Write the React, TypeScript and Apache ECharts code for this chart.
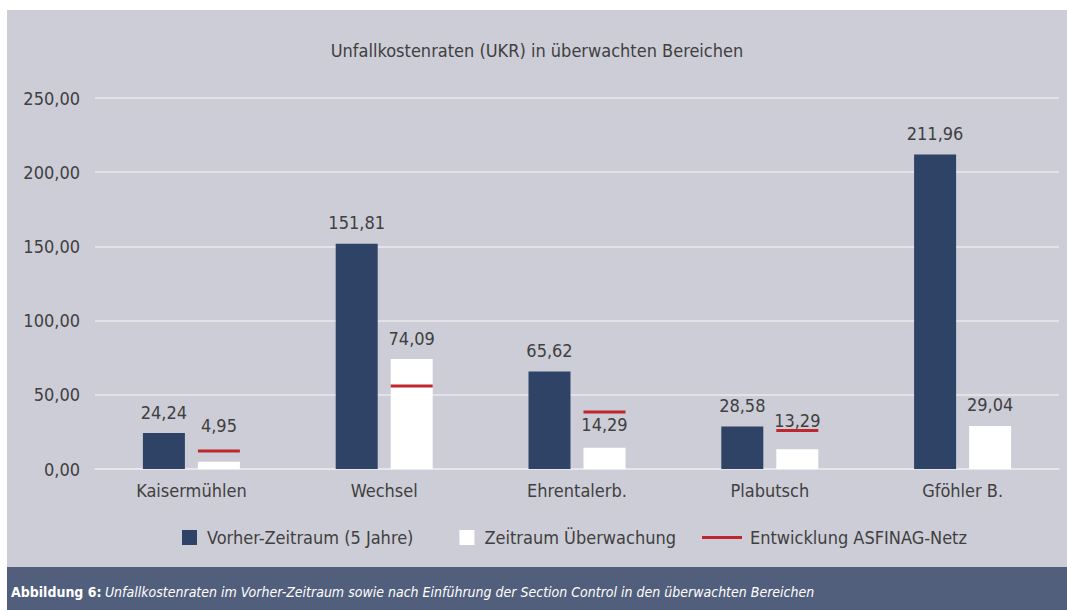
import React, { useEffect, useRef } from "react";
import * as echarts from "echarts";

const categories = ["Kaisermühlen", "Wechsel", "Ehrentalerb.", "Plabutsch", "Gföhler B."];
const vorher = [24.24, 151.81, 65.62, 28.58, 211.96];
const ueberwachung = [4.95, 74.09, 14.29, 13.29, 29.04];
const asfinag: (number | null)[] = [12.1, 55.9, 38.4, 26.0, null];
const ueberwachungLabelLift = [15, 0, 2, 8, 0];
const yTicks = { min: 0, max: 250, interval: 50 };

const seriesNames = ["Vorher-Zeitraum (5 Jahre)", "Zeitraum Überwachung", "Entwicklung ASFINAG-Netz"];
const titleText = "Unfallkostenraten (UKR) in überwachten Bereichen";
const captionBold = "Abbildung 6:";
const captionText = "Unfallkostenraten im Vorher-Zeitraum sowie nach Einführung der Section Control in den überwachten Bereichen";

const FONT = "'Liberation Sans Narrow', 'Arial Narrow', 'DejaVu Sans Condensed', sans-serif";
const FS = 18;
const TEXT = "#404040";
const DARK = "#2f4366";
const RED = "#c0272d";
const BG = "#cdcdd7";
const CAPTION_BG = "#525f7c";
const GRID = "#e8e8ed";

const fmt = (v: number) => v.toFixed(2).replace(".", ",");

export default function App() {
  const ref = useRef<HTMLDivElement>(null);
  useEffect(() => {
    if (!ref.current) return;
    const chart = echarts.init(ref.current, null, { renderer: "svg" });
    const BAR_W = 42;
    const GAP = 13;
    const offset = (BAR_W + GAP) / 2;
    chart.setOption({
      animation: false,
      textStyle: { fontFamily: FONT },
      graphic: [
        { type: "rect", z: -10, silent: true, shape: { x: 7, y: 10, width: 1060, height: 557 }, style: { fill: BG } },
        { type: "rect", z: -10, silent: true, shape: { x: 7, y: 567, width: 1060, height: 43 }, style: { fill: CAPTION_BG } },
        {
          type: "text",
          x: 11,
          y: 592,
          style: {
            text: `{b|${captionBold}} {i|${captionText}}`,
            verticalAlign: "middle",
            fill: "#ffffff",
            rich: {
              b: { fontFamily: FONT, fontSize: 14, fontWeight: "bold", fill: "#ffffff" },
              i: { fontFamily: FONT, fontSize: 14, fontStyle: "italic", fill: "#ffffff" },
            },
          },
        },
      ],
      title: {
        text: titleText,
        left: 537,
        textAlign: "center",
        top: 41,
        padding: 0,
        textStyle: { fontFamily: FONT, fontSize: FS, fontWeight: "normal", color: TEXT },
      },
      legend: [
        {
          data: [
            { name: seriesNames[0], icon: "rect" },
            { name: seriesNames[1], icon: "rect" },
          ],
          left: 182,
          top: 525,
          padding: 0,
          itemWidth: 15,
          itemHeight: 15,
          itemGap: 46,
          textStyle: { fontFamily: FONT, fontSize: FS, color: TEXT, lineHeight: 25, padding: [0, 0, 0, 5] },
        },
        {
          data: [{ name: seriesNames[2], icon: "rect" }],
          left: 702,
          top: 525,
          padding: 0,
          itemWidth: 40,
          itemHeight: 3,
          textStyle: { fontFamily: FONT, fontSize: FS, color: TEXT, lineHeight: 25, padding: [0, 0, 0, 3] },
        },
      ],
      grid: { left: 95, right: 8, top: 98, bottom: 141 },
      xAxis: {
        type: "category",
        data: categories,
        axisLine: { lineStyle: { color: GRID, width: 1.5 } },
        axisTick: { show: false },
        axisLabel: { fontFamily: FONT, fontSize: FS, color: TEXT, margin: 12 },
      },
      yAxis: {
        type: "value",
        min: yTicks.min,
        max: yTicks.max,
        interval: yTicks.interval,
        axisLine: { show: false },
        axisTick: { show: false },
        splitLine: { lineStyle: { color: GRID, width: 1.5 } },
        axisLabel: { fontFamily: FONT, fontSize: FS, color: TEXT, margin: 15, formatter: (v: number) => fmt(v) },
      },
      series: [
        {
          name: seriesNames[0],
          type: "bar",
          data: vorher,
          barWidth: BAR_W,
          barGap: `${(GAP / BAR_W) * 100}%`,
          itemStyle: { color: DARK },
          label: {
            show: true,
            position: "top",
            distance: 12,
            fontFamily: FONT,
            fontSize: FS,
            color: TEXT,
            formatter: (p: any) => fmt(p.value),
          },
        },
        {
          name: seriesNames[1],
          type: "bar",
          data: ueberwachung.map((v, i) => ({ value: v, label: { offset: [0, -ueberwachungLabelLift[i]] } })),
          barWidth: BAR_W,
          itemStyle: { color: "#ffffff" },
          label: {
            show: true,
            position: "top",
            distance: 12,
            fontFamily: FONT,
            fontSize: FS,
            color: TEXT,
            formatter: (p: any) => fmt(p.value),
          },
        },
        {
          name: seriesNames[2],
          type: "custom",
          itemStyle: { color: RED },
          encode: { x: 0, y: 1 },
          data: asfinag.map((v, i) => (v == null ? [i, "-"] : [i, v])),
          renderItem: (params: any, api: any) => {
            const val = api.value(1);
            if (val === "-" || val == null || isNaN(val)) return null;
            const pt = api.coord([api.value(0), val]);
            return {
              type: "rect",
              shape: { x: pt[0] + offset - BAR_W / 2, y: pt[1] - 1.5, width: BAR_W, height: 3 },
              style: { fill: RED },
              z2: 10,
            };
          },
          z: 5,
        },
      ],
    });
    return () => chart.dispose();
  }, []);
  return (
    <div style={{ position: "absolute", left: 0, top: 0, width: 1067, height: 610, background: "#ffffff" }}>
      <div ref={ref} style={{ width: 1067, height: 610 }} />
    </div>
  );
}
